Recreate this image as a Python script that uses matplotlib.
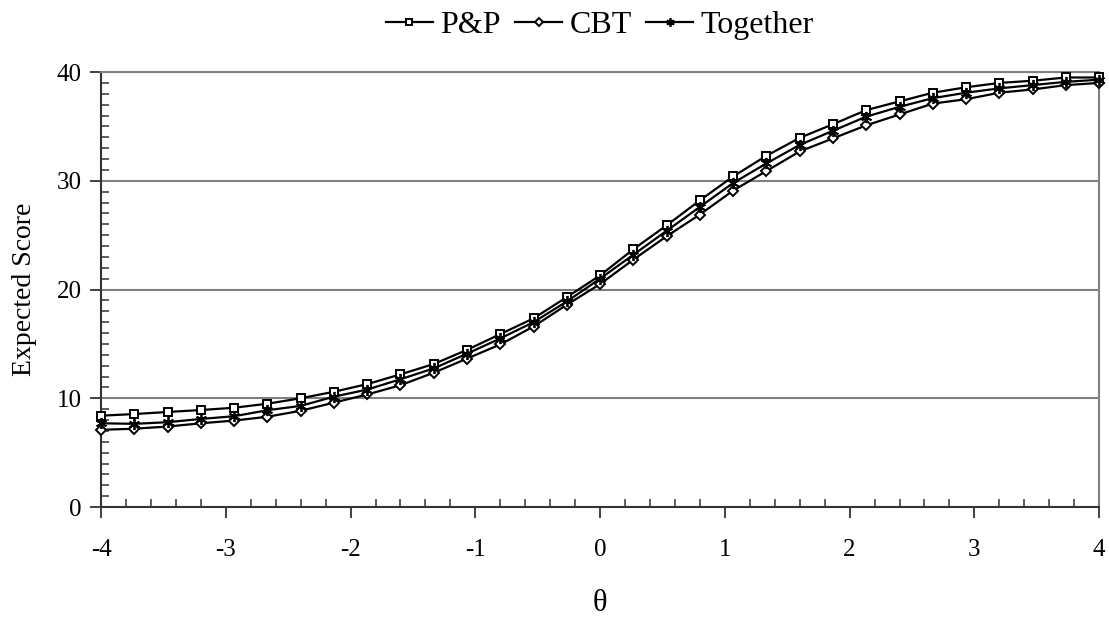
import numpy as np
import matplotlib.pyplot as plt
from matplotlib.ticker import MultipleLocator

# valeurs
theta = np.linspace(-4, 4, 31)
pp = [8.4, 8.55, 8.74, 8.92, 9.13, 9.5, 10.0, 10.6, 11.3, 12.2, 13.15, 14.45, 15.9, 17.35,
      19.3, 21.3, 23.7, 25.9, 28.2, 30.4, 32.3, 33.95, 35.2, 36.5, 37.3, 38.1, 38.6, 39.0,
      39.2, 39.5, 39.5]
cbt = [7.1, 7.2, 7.4, 7.7, 7.95, 8.3, 8.85, 9.6, 10.35, 11.2, 12.35, 13.65, 14.95, 16.6,
       18.6, 20.5, 22.75, 24.9, 26.9, 29.1, 30.9, 32.7, 33.9, 35.1, 36.1, 37.1, 37.5, 38.1,
       38.4, 38.8, 39.0]
together = [7.7, 7.65, 7.8, 8.1, 8.35, 8.9, 9.3, 10.15, 10.8, 11.75, 12.75, 14.1, 15.5, 17.0,
            18.9, 21.0, 23.2, 25.4, 27.6, 29.8, 31.6, 33.3, 34.6, 35.9, 36.8, 37.6, 38.1, 38.5,
            38.8, 39.1, 39.3]

plt.rcParams['font.family'] = ['Liberation Serif', 'DejaVu Serif']
plt.rcParams['axes.unicode_minus'] = False

fig = plt.figure(figsize=(11.09, 6.19), dpi=100)
ax = fig.add_axes([0.0911, 0.1809, 0.9, 0.7027])

ax.plot(theta, pp, color='black', lw=1.6, marker='s', ms=6, mfc='white', mec='black',
        mew=1.4, label='P&P', clip_on=False, zorder=3)
ax.plot(theta, cbt, color='black', lw=1.6, marker='D', ms=5, mfc='white', mec='black',
        mew=1.4, label='CBT', clip_on=False, zorder=3)
ax.plot(theta, together, color='black', lw=1.6, marker=(6, 2, 0), ms=8, mec='black',
        mew=1.3, label='Together', clip_on=False, zorder=3)

ax.set_xlim(-4, 4)
ax.set_ylim(0, 40)
ax.xaxis.set_major_locator(MultipleLocator(1))
ax.xaxis.set_minor_locator(MultipleLocator(0.2))
ax.yaxis.set_major_locator(MultipleLocator(10))
ax.yaxis.set_minor_locator(MultipleLocator(1))

ax.grid(axis='y', which='major', color='#808080', lw=1.5)
ax.set_axisbelow(True)
for side in ['top', 'right']:
    ax.spines[side].set_color('#808080')
    ax.spines[side].set_linewidth(1.5)
for side in ['left', 'bottom']:
    ax.spines[side].set_color('#333333')
    ax.spines[side].set_linewidth(1.5)

ax.tick_params(which='major', direction='out', length=8, width=1.3, color='#333333',
               labelsize=18, top=False, right=False)
ax.tick_params(which='minor', direction='in', length=6, width=1.1, color='#333333',
               top=False, right=False)
ax.tick_params(axis='x', which='major', pad=15)
ax.tick_params(axis='y', which='major', pad=6)

ax.set_xlabel('θ', fontsize=22, labelpad=20)
ax.set_ylabel('Expected Score', fontsize=20, labelpad=14)

leg = ax.legend(loc='lower center', bbox_to_anchor=(0.5, 1.045), ncol=3, frameon=False,
                fontsize=23, handlelength=1.45, handletextpad=0.25, columnspacing=0.45,
                markerscale=0.75, borderaxespad=0)

plt.savefig('out.png', dpi=100)
